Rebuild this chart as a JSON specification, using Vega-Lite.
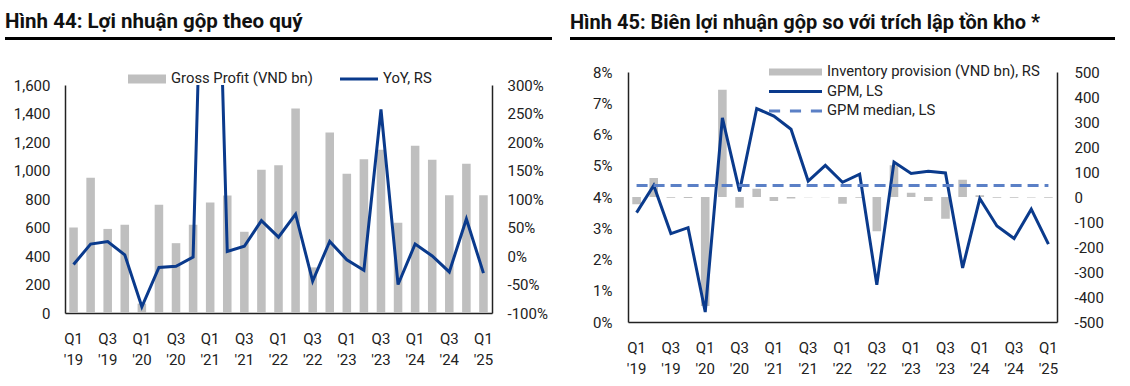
{
  "$schema": "https://vega.github.io/schema/vega-lite/v6.json",
  "padding": {"left": 5, "top": 12, "right": 0, "bottom": 0},
  "background": "white",
  "config": {
    "view": {"stroke": null},
    "font": "Roboto",
    "axis": {"labelFont": "Roboto", "labelFontSize": 15, "labelColor": "#222", "domainColor": "#222", "domainWidth": 1.5, "ticks": false, "tickSize": 0, "grid": false, "title": null},
    "legend": {"labelFont": "Roboto", "labelFontSize": 14.8, "labelColor": "#222", "labelLimit": 400},
    "title": {"font": "Roboto", "fontSize": 20.5, "fontWeight": "bold", "color": "#111", "anchor": "start"}
  },
  "datasets": {
    "left": [
      {"q": "Q1 '19", "gp": 600, "yoy": -0.15},
      {"q": "Q2 '19", "gp": 950, "yoy": 0.21},
      {"q": "Q3 '19", "gp": 590, "yoy": 0.255},
      {"q": "Q4 '19", "gp": 620, "yoy": 0.02},
      {"q": "Q1 '20", "gp": 66, "yoy": -0.89},
      {"q": "Q2 '20", "gp": 760, "yoy": -0.2},
      {"q": "Q3 '20", "gp": 490, "yoy": -0.18},
      {"q": "Q4 '20", "gp": 620, "yoy": -0.02},
      {"q": "Q1 '21", "gp": 775, "yoy": 10.7},
      {"q": "Q2 '21", "gp": 825, "yoy": 0.08},
      {"q": "Q3 '21", "gp": 570, "yoy": 0.17},
      {"q": "Q4 '21", "gp": 1005, "yoy": 0.62},
      {"q": "Q1 '22", "gp": 1037, "yoy": 0.33},
      {"q": "Q2 '22", "gp": 1435, "yoy": 0.735},
      {"q": "Q3 '22", "gp": 320, "yoy": -0.44},
      {"q": "Q4 '22", "gp": 1266, "yoy": 0.255},
      {"q": "Q1 '23", "gp": 977, "yoy": -0.065},
      {"q": "Q2 '23", "gp": 1079, "yoy": -0.25},
      {"q": "Q3 '23", "gp": 1145, "yoy": 2.57},
      {"q": "Q4 '23", "gp": 633, "yoy": -0.5},
      {"q": "Q1 '24", "gp": 1173, "yoy": 0.21},
      {"q": "Q2 '24", "gp": 1075, "yoy": 0.0},
      {"q": "Q3 '24", "gp": 827, "yoy": -0.28},
      {"q": "Q4 '24", "gp": 1047, "yoy": 0.65},
      {"q": "Q1 '25", "gp": 827, "yoy": -0.3}
    ],
    "right": [
      {"q": "Q1 '19", "gpm": 0.035, "inv": -29, "med": 0.0437},
      {"q": "Q2 '19", "gpm": 0.0437, "inv": 76, "med": 0.0437},
      {"q": "Q3 '19", "gpm": 0.0283, "inv": -3, "med": 0.0437},
      {"q": "Q4 '19", "gpm": 0.0302, "inv": -4, "med": 0.0437},
      {"q": "Q1 '20", "gpm": 0.0032, "inv": -436, "med": 0.0437},
      {"q": "Q2 '20", "gpm": 0.0653, "inv": 429, "med": 0.0437},
      {"q": "Q3 '20", "gpm": 0.0418, "inv": -43, "med": 0.0437},
      {"q": "Q4 '20", "gpm": 0.0683, "inv": 33, "med": 0.0437},
      {"q": "Q1 '21", "gpm": 0.0659, "inv": -16, "med": 0.0437},
      {"q": "Q2 '21", "gpm": 0.0617, "inv": -6, "med": 0.0437},
      {"q": "Q3 '21", "gpm": 0.0451, "inv": -1, "med": 0.0437},
      {"q": "Q4 '21", "gpm": 0.0501, "inv": -1, "med": 0.0437},
      {"q": "Q1 '22", "gpm": 0.0447, "inv": -27, "med": 0.0437},
      {"q": "Q2 '22", "gpm": 0.0473, "inv": -3, "med": 0.0437},
      {"q": "Q3 '22", "gpm": 0.0119, "inv": -137, "med": 0.0437},
      {"q": "Q4 '22", "gpm": 0.0512, "inv": 127, "med": 0.0437},
      {"q": "Q1 '23", "gpm": 0.0475, "inv": 17, "med": 0.0437},
      {"q": "Q2 '23", "gpm": 0.0482, "inv": -16, "med": 0.0437},
      {"q": "Q3 '23", "gpm": 0.0477, "inv": -87, "med": 0.0437},
      {"q": "Q4 '23", "gpm": 0.0173, "inv": 69, "med": 0.0437},
      {"q": "Q1 '24", "gpm": 0.0395, "inv": 7, "med": 0.0437},
      {"q": "Q2 '24", "gpm": 0.0307, "inv": -3, "med": 0.0437},
      {"q": "Q3 '24", "gpm": 0.0267, "inv": -3, "med": 0.0437},
      {"q": "Q4 '24", "gpm": 0.0361, "inv": -2, "med": 0.0437},
      {"q": "Q1 '25", "gpm": 0.0249, "inv": -3, "med": 0.0437}
    ]
  },
  "spacing": 18,
  "resolve": {"scale": {"color": "independent"}, "legend": {"color": "independent"}},
  "hconcat": [
    {
      "spacing": 45,
      "bounds": "flush",
      "center": true,
      "resolve": {"scale": {"color": "independent"}, "legend": {"color": "independent"}},
      "vconcat": [
        {
          "title": {"text": "Hình 44: Lợi nhuận gộp theo quý", "offset": 3},
          "data": {"values": [{"v": 0}]},
          "width": 547,
          "height": 3,
          "view": {"fill": "#000", "stroke": null},
          "mark": {"type": "point", "opacity": 0}
        },
        {
          "data": {"name": "left"},
          "width": 427,
          "height": 228,
          "encoding": {
            "x": {
              "field": "q", "type": "nominal", "sort": null,
              "scale": {"paddingInner": 0.5, "paddingOuter": 0.25},
              "axis": {
                "values": ["Q1 '19", "Q3 '19", "Q1 '20", "Q3 '20", "Q1 '21", "Q3 '21", "Q1 '22", "Q3 '22", "Q1 '23", "Q3 '23", "Q1 '24", "Q3 '24", "Q1 '25"],
                "labelExpr": "split(datum.label, ' ')",
                "labelAngle": 0, "labelPadding": 18, "labelLineHeight": 21
              }
            }
          },
          "layer": [
            {
              "mark": {"type": "bar"},
              "encoding": {
                "y": {"field": "gp", "type": "quantitative", "scale": {"domain": [0, 1600], "nice": false},
                  "axis": {"orient": "left", "values": [0, 200, 400, 600, 800, 1000, 1200, 1400, 1600], "format": ",.0f", "labelPadding": 15}},
                "color": {
                  "datum": "Gross Profit (VND bn)", "type": "nominal",
                  "scale": {"domain": ["Gross Profit (VND bn)", "YoY, RS"], "range": ["#BFBFBF", "#0A3A8C"]},
                  "legend": {
                    "orient": "none", "legendX": 63, "legendY": -13, "direction": "horizontal", "title": null,
                    "symbolSize": 1444, "clipHeight": 14, "labelOffset": 5, "columnPadding": 27,
                    "encode": {"symbols": {"update": {
                      "shape": {"signal": "datum.value === 'YoY, RS' ? 'M-1,-0.08H1V0.08H-1Z' : 'M-1,-0.24H1V0.24H-1Z'"},
                      "fill": {"signal": "datum.value === 'YoY, RS' ? '#0A3A8C' : '#BFBFBF'"},
                      "stroke": {"value": "transparent"}, "strokeWidth": {"value": 0}, "opacity": {"value": 1}
                    }}}
                  }
                }
              }
            },
            {
              "mark": {"type": "line", "strokeWidth": 3, "clip": true},
              "encoding": {
                "y": {"field": "yoy", "type": "quantitative", "scale": {"domain": [-1, 3], "nice": false},
                  "axis": {"orient": "right", "values": [-1, -0.5, 0, 0.5, 1, 1.5, 2, 2.5, 3], "format": ".0%", "labelExpr": "replace(datum.label, '−', '-')", "labelPadding": 15}},
                "color": {"datum": "YoY, RS", "type": "nominal"}
              }
            }
          ],
          "resolve": {"scale": {"y": "independent"}}
        }
      ]
    },
    {
      "spacing": 32,
      "bounds": "flush",
      "center": true,
      "resolve": {"scale": {"color": "independent"}, "legend": {"color": "independent"}},
      "vconcat": [
        {
          "title": {"text": "Hình 45: Biên lợi nhuận gộp so với trích lập tồn kho *", "offset": 3, "fontSize": 20},
          "data": {"values": [{"v": 0}]},
          "width": 545,
          "height": 3,
          "view": {"fill": "#000", "stroke": null},
          "mark": {"type": "point", "opacity": 0}
        },
        {
          "data": {"name": "right"},
          "width": 429,
          "height": 250,
          "encoding": {
            "x": {
              "field": "q", "type": "nominal", "sort": null,
              "scale": {"paddingInner": 0.5, "paddingOuter": 0.25},
              "axis": {
                "values": ["Q1 '19", "Q3 '19", "Q1 '20", "Q3 '20", "Q1 '21", "Q3 '21", "Q1 '22", "Q3 '22", "Q1 '23", "Q3 '23", "Q1 '24", "Q3 '24", "Q1 '25"],
                "labelExpr": "split(datum.label, ' ')",
                "labelAngle": 0, "labelPadding": 18, "labelLineHeight": 21
              }
            }
          },
          "layer": [
            {
              "mark": {"type": "bar"},
              "encoding": {
                "y": {"field": "inv", "type": "quantitative", "scale": {"domain": [-500, 500], "nice": false},
                  "axis": {"orient": "right", "values": [-500, -400, -300, -200, -100, 0, 100, 200, 300, 400, 500], "format": ".0f", "labelExpr": "replace(datum.label, '−', '-')", "labelPadding": 17}},
                "color": {
                  "datum": "Inventory provision (VND bn), RS", "type": "nominal",
                  "scale": {"domain": ["Inventory provision (VND bn), RS", "GPM, LS", "GPM median, LS"], "range": ["#BFBFBF", "#0A3A8C", "#5B80C6"]},
                  "legend": {
                    "orient": "none", "legendX": 141, "legendY": -8, "direction": "vertical", "title": null,
                    "symbolSize": 2809, "clipHeight": 16, "rowPadding": 3.5, "labelOffset": 5,
                    "encode": {"symbols": {"update": {
                      "shape": {"signal": "datum.value === 'GPM, LS' ? 'M-1,-0.06H1V0.06H-1Z' : datum.value === 'GPM median, LS' ? 'M-1,-0.06H-0.58V0.06H-1Z M-0.21,-0.06H0.21V0.06H-0.21Z M0.58,-0.06H1V0.06H0.58Z' : 'M-1,-0.13H1V0.13H-1Z'"},
                      "fill": {"signal": "datum.value === 'GPM, LS' ? '#0A3A8C' : datum.value === 'GPM median, LS' ? '#5B80C6' : '#BFBFBF'"},
                      "stroke": {"value": "transparent"}, "strokeWidth": {"value": 0}, "opacity": {"value": 1}
                    }}}
                  }
                }
              }
            },
            {
              "mark": {"type": "line", "strokeWidth": 3},
              "encoding": {
                "y": {"field": "gpm", "type": "quantitative", "scale": {"domain": [0, 0.08], "nice": false},
                  "axis": {"orient": "left", "values": [0, 0.01, 0.02, 0.03, 0.04, 0.05, 0.06, 0.07, 0.08], "format": ".0%", "labelPadding": 16}},
                "color": {"datum": "GPM, LS", "type": "nominal"}
              }
            },
            {
              "mark": {"type": "line", "strokeWidth": 3, "strokeDash": [11, 6]},
              "encoding": {
                "y": {"field": "med", "type": "quantitative", "scale": {"domain": [0, 0.08], "nice": false}, "axis": null},
                "color": {"datum": "GPM median, LS", "type": "nominal"}
              }
            }
          ],
          "resolve": {"scale": {"y": "independent"}}
        }
      ]
    }
  ]
}
